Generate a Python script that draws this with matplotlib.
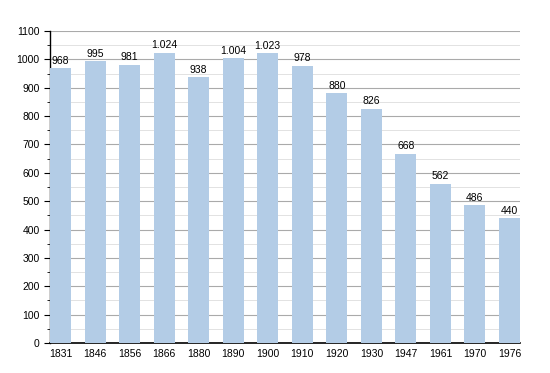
import matplotlib
matplotlib.use('Agg')
import matplotlib.pyplot as plt
from matplotlib.ticker import MultipleLocator

years = ['1831', '1846', '1856', '1866', '1880', '1890', '1900',
         '1910', '1920', '1930', '1947', '1961', '1970', '1976']
population = [968, 995, 981, 1024, 938, 1004, 1023, 978, 880, 826, 668, 562, 486, 440]

plt.rcParams['font.family'] = ['Liberation Sans', 'DejaVu Sans']

fig = plt.figure(figsize=(5.5, 3.73), dpi=100)
ax = fig.add_axes([50 / 550, 30 / 373, 470 / 550, 312 / 373])

width = 0.61
x = list(range(len(years)))
ax.bar(x, population, width=width, color='#b3cce6', zorder=3)

def fmt(v):
    return f"{v:,}".replace(',', '.')

for xi, v in zip(x, population):
    ax.text(xi, v + 8, fmt(v), ha='center', va='bottom', fontsize=7.5, zorder=4)

ax.set_xlim(-width / 2, len(years) - 1 + width / 2)
ax.set_ylim(0, 1100)
ax.set_xticks(x)
ax.set_xticklabels(years, fontsize=7.5)
ax.yaxis.set_major_locator(MultipleLocator(100))
ax.yaxis.set_minor_locator(MultipleLocator(50))
ax.tick_params(axis='y', labelsize=7.5, length=4, width=0.8)
ax.tick_params(axis='y', which='minor', length=2, width=0.6)
ax.tick_params(axis='x', length=0, pad=4)

ax.grid(axis='y', which='major', color='#aaaaaa', linewidth=0.8, zorder=0)
ax.grid(axis='y', which='minor', color='#dddddd', linewidth=0.6, zorder=0)

for side in ['top', 'right']:
    ax.spines[side].set_visible(False)
ax.spines['left'].set_linewidth(1)
ax.spines['bottom'].set_linewidth(1.2)

fig.savefig('out.png', dpi=100)
